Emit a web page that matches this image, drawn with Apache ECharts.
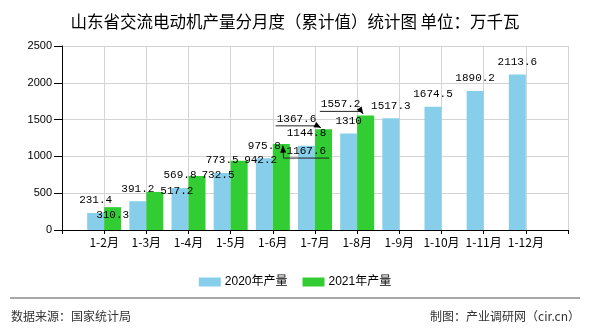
<!DOCTYPE html>
<html><head><meta charset="utf-8">
<script src="https://cdn.jsdelivr.net/npm/echarts@6/dist/echarts.min.js"></script>
<style>html,body{margin:0;padding:0;background:#fff}#c{width:590px;height:330px}</style>
</head><body><div id="c"></div>
<script>
// ---- data ----
const titleText = '山东省交流电动机产量分月度（累计值）统计图 单位：万千瓦';
const months = ['1-2月','1-3月','1-4月','1-5月','1-6月','1-7月','1-8月','1-9月','1-10月','1-11月','1-12月'];
const seriesNames = ['2020年产量','2021年产量'];
const values2020 = [231.4,391.2,569.8,773.5,975.8,1144.8,1310,1517.3,1674.5,1890.2,2113.6];
const values2021 = [310.3,517.2,732.5,942.2,1167.6,1367.6,1557.2];
const yMin = 0, yMax = 2500, yInterval = 500;
const sourceText = '数据来源：国家统计局';
const makerText = '制图：产业调研网（cir.cn）';

// ---- label placement (positions kept apart from data) ----
const labelOffsets2021 = [[0,20],[22,12],[21,12],[21.5,12],[25,19.5],[-27,2],[-25,1.5]];
const leaders2021 = [{index:4, dir:'up'},{index:5, dir:'right'},{index:6, dir:'right'}];

const colors = ['#87CEEB','#32CD32'];
const barW = 17;
const labelFont = 11, labelFamily = '"Liberation Mono", monospace', labelDist = 7;

// padded category axis: first and last slot empty
const cats = [''].concat(months).concat(['']);
const pad = (arr) => { const a = [null].concat(arr); while (a.length < cats.length) a.push(null); return a; };

const d2020 = pad(values2020);
const d2021 = pad(values2021.map((v,i) => ({value:v, label:{offset: labelOffsets2021[i]}})));

const chart = echarts.init(document.getElementById('c'), null, {renderer:'canvas'});
const option = {
  animation:false,
  backgroundColor:'#fff',
  title:{text:titleText, left:'center', top:8,
    textStyle:{fontSize:16.5, fontWeight:'normal', color:'#000', fontFamily:'"Noto Sans CJK SC", sans-serif'}},
  legend:{data:seriesNames, left:'center', top:271, itemWidth:22, itemHeight:9, itemGap:15,
    icon:'rect', textStyle:{fontSize:12, color:'#000', fontFamily:'"Liberation Sans", "Noto Sans CJK SC", sans-serif', padding:[0,0,0,-1]}},
  grid:{left:62, top:46, width:506, height:184, containLabel:false},
  xAxis:{type:'category', data:cats, boundaryGap:false,
    axisLine:{lineStyle:{color:'#000', width:1}},
    axisTick:{show:true, length:4, interval:0, lineStyle:{color:'#000'}},
    axisLabel:{interval:0, margin:6, color:'#000', fontSize:12, fontFamily:'"Noto Sans CJK SC", sans-serif'},
    splitLine:{show:true, interval:0, lineStyle:{color:'#d4d4d4', width:1}}},
  yAxis:{type:'value', min:yMin, max:yMax, interval:yInterval,
    axisLine:{show:true, lineStyle:{color:'#000', width:1}},
    axisTick:{show:true, length:8, lineStyle:{color:'#000'}},
    axisLabel:{margin:10, color:'#000', fontSize:11, fontFamily:'"Liberation Sans", Arial, sans-serif',
      formatter: v => String(v)},
    splitLine:{show:true, lineStyle:{color:'#d4d4d4', width:1}}},
  series:[
    {name:seriesNames[0], type:'bar', data:d2020, barWidth:barW, barGap:'0%', itemStyle:{color:colors[0]},
      label:{show:true, position:'top', distance:labelDist, color:'#000', fontSize:labelFont, fontFamily:labelFamily}},
    {name:seriesNames[1], type:'bar', data:d2021, barWidth:barW, barGap:'0%', itemStyle:{color:colors[1]},
      label:{show:true, position:'top', distance:labelDist, color:'#000', fontSize:labelFont, fontFamily:labelFamily}}
  ]
};
chart.setOption(option);

// ---- leader lines with arrowheads, positioned via the chart's scales ----
const ctx = document.createElement('canvas').getContext('2d');
ctx.font = labelFont + 'px ' + labelFamily;
function arrowHead(tip, from, len, hw) {
  const dx = tip[0]-from[0], dy = tip[1]-from[1];
  const L = Math.hypot(dx,dy) || 1, ux = dx/L, uy = dy/L;
  const bx = tip[0]-ux*len, by = tip[1]-uy*len;
  return [[tip[0],tip[1]],[bx-uy*hw, by+ux*hw],[bx+uy*hw, by-ux*hw]];
}
const graphics = [];
leaders2021.forEach(l => {
  const v = values2021[l.index];
  const p = chart.convertToPixel({gridIndex:0}, [l.index+1, v]);
  const barLeft = p[0], barRight = p[0] + barW, barTop = p[1];
  const off = labelOffsets2021[l.index];
  const cx = p[0] + barW/2 + off[0];
  const cy = barTop - labelDist - labelFont/2 + off[1];
  const w = ctx.measureText(String(v)).width;
  const uy = cy + 7;
  let pts, tip, from;
  if (l.dir === 'right') {
    from = [cx + w/2 + 1, uy];
    tip = [barLeft + 6, barTop - 1.5];
    pts = [[cx - w/2 - 1, uy], from, tip];
  } else {
    from = [cx - w/2 - 3, uy];
    tip = [barRight - 7, barTop + 1.5];
    pts = [[cx + w/2 + 3, uy], from, tip];
  }
  graphics.push({type:'polyline', shape:{points:pts}, style:{stroke:'#222', lineWidth:1, fill:null}, z:100});
  graphics.push({type:'polygon', shape:{points:arrowHead(tip, from, 7, 3)}, style:{fill:'#000'}, z:100});
});
// footer
graphics.push({type:'line', shape:{x1:10, y1:298, x2:580, y2:298}, style:{stroke:'#8a8a8a', lineWidth:1.5}, z:100});
graphics.push({type:'text', style:{text:sourceText, x:11, y:316, textVerticalAlign:'middle', textAlign:'left',
  font:'12px "Noto Sans CJK SC", sans-serif', fill:'#333'}, z:100});
graphics.push({type:'text', style:{text:makerText, x:580, y:316, textVerticalAlign:'middle', textAlign:'right',
  font:'12px "Noto Sans CJK SC", sans-serif', fill:'#333'}, z:100});
chart.setOption({graphic: graphics});
</script>
</body></html>
